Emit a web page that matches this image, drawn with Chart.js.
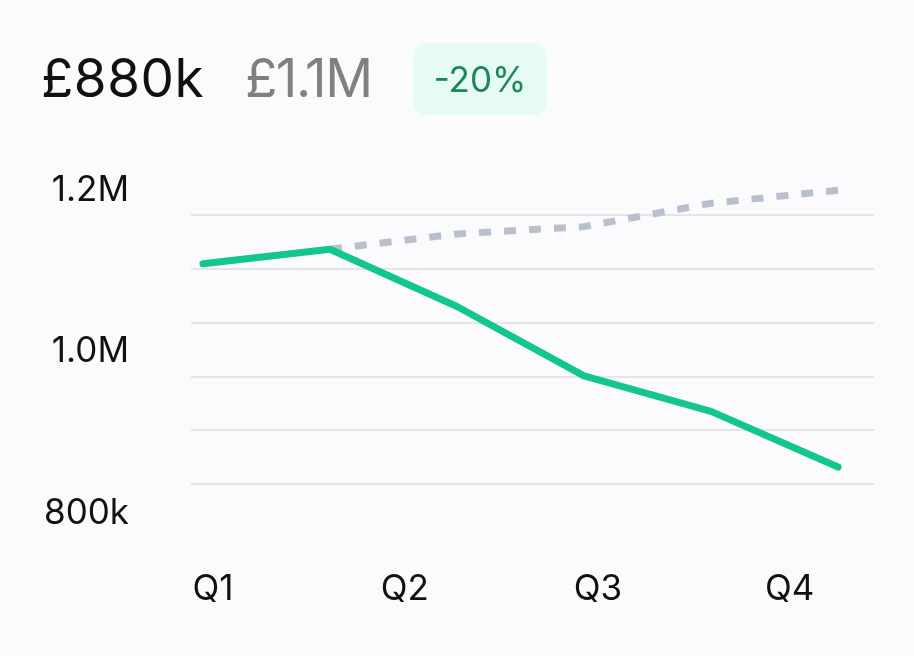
<!DOCTYPE html>
<html>
<head>
<meta charset="utf-8">
<script src="https://cdn.jsdelivr.net/npm/chart.js@4.4.0/dist/chart.umd.min.js"></script>
<style>
  html, body { margin: 0; padding: 0; background: #fbfbfd; }
  body { width: 914px; height: 656px; position: relative; overflow: hidden; font-family: Inter, sans-serif; }
  #wrap { position: absolute; left: 0; top: 0; width: 914px; height: 656px; }
  .big { position: absolute; top: 52px; font-size: 53px; line-height: 53px; white-space: nowrap; }
  #actual { left: 41px; color: #111111; letter-spacing: 0.5px; }
  #target { left: 245px; color: #808080; letter-spacing: -1.5px; }
  #badge { position: absolute; left: 413px; top: 43px; width: 134px; height: 72px; border-radius: 14px;
           background: #e6fbf3; color: #1d875a; font-size: 35px; display: flex; align-items: center; justify-content: center; }
</style>
</head>
<body>
<div id="wrap"><canvas id="graphique"></canvas></div>
<div class="big" id="actual">£880k</div>
<div class="big" id="target">£1.1M</div>
<div id="badge">-20%</div>
<script>
// valeurs (en milliers de £)
var actual = [1140, 1158, 1087, 1001, 957, 888];
var target = [null, 1158, 1177, 1186, 1215, 1231];

// axe X : libellés des trimestres et leur position (en index de point)
var quarterLabels = ['Q1', 'Q2', 'Q3', 'Q4'];
var quarterAt = [0.08, 1.59, 3.11, 4.62];

// axe Y : lignes de grille et libellés
var yTickValues = [800, 866.67, 933.33, 1000, 1066.67, 1133.33, 1200];
var yTickLabels = ['800k', '', '', '1.0M', '', '', '1.2M'];

document.addEventListener("DOMContentLoaded", function() {
    var ctx = document.getElementById('graphique').getContext('2d');
    var font = { family: 'Inter', size: 35 };

    new Chart(ctx, {
        type: 'line',
        data: {
            datasets: [{
                label: 'Réel',
                data: actual.map(function(v, i) { return { x: i, y: v }; }),
                borderColor: '#12c68d',
                borderWidth: 7,
                borderCapStyle: 'round',
                borderJoinStyle: 'round',
                pointRadius: 0,
                tension: 0
            }, {
                label: 'Objectif',
                data: target.map(function(v, i) { return { x: i, y: v }; }),
                borderColor: '#b9c0cd',
                borderWidth: 7,
                borderDash: [12, 13],
                pointRadius: 0,
                tension: 0,
                spanGaps: false
            }]
        },
        options: {
            responsive: true,
            maintainAspectRatio: false,
            animation: false,
            layout: { padding: { top: 175, right: 40, left: 0, bottom: 0 } },
            plugins: { legend: { display: false }, tooltip: { enabled: false } },
            scales: {
                x: {
                    type: 'linear',
                    min: -0.094,
                    max: 5.283,
                    afterBuildTicks: function(s) {
                        s.ticks = quarterAt.map(function(v) { return { value: v }; });
                    },
                    afterFit: function(s) { s.height = 118; },
                    grid: { display: false, drawTicks: false },
                    border: { display: false },
                    ticks: {
                        font: font,
                        color: '#111111',
                        padding: 30,
                        maxRotation: 0,
                        autoSkip: false,
                        callback: function(v, i) { return quarterLabels[i]; }
                    }
                },
                y: {
                    min: 800,
                    max: 1250,
                    afterBuildTicks: function(s) {
                        s.ticks = yTickValues.map(function(v) { return { value: v }; });
                    },
                    afterFit: function(s) { s.width = 191; },
                    grid: {
                        drawTicks: false,
                        lineWidth: 2,
                        color: function(c) {
                            return c.index === 0 ? 'rgba(0,0,0,0)' : '#e4e4e9';
                        }
                    },
                    border: { display: false },
                    ticks: {
                        font: font,
                        color: '#111111',
                        padding: 62,
                        labelOffset: -25,
                        autoSkip: false,
                        callback: function(v, i) { return yTickLabels[i]; }
                    }
                }
            }
        }
    });
});
</script>
</body>
</html>
